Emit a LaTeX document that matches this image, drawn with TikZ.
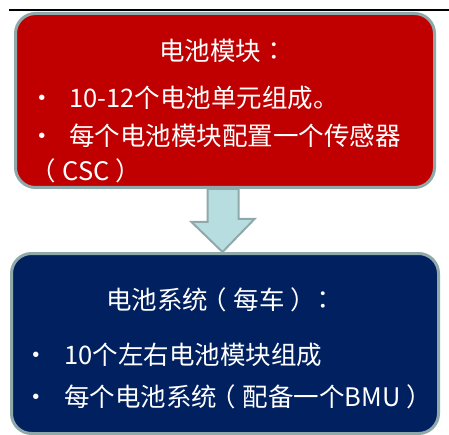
\documentclass[tikz,border=0pt]{standalone}
\usepackage{fontspec}
\setmainfont{Noto Sans CJK SC}
\newfontfamily\tcf{Noto Sans CJK TC}
\newcommand{\LP}{\makebox[1em][l]{\hspace{-0.25em}（}}
\newcommand{\RP}{\makebox[1em][l]{\hspace{0.22em}）}}
\newcommand{\CO}{{\tcf ：}}
\begin{document}
\begin{tikzpicture}[x=1pt,y=1pt,
  boxframe/.style={draw=frameC,line width=3pt,rounded corners=20pt},
  txt/.style={text=white,font=\fontsize{25.5}{28}\selectfont,inner sep=0pt},
]
\definecolor{frameC}{HTML}{8FA9AB}
\definecolor{redC}{HTML}{C00000}
\definecolor{navyC}{HTML}{002060}
\definecolor{arrowC}{HTML}{B7DDE0}
\useasboundingbox (0,0) rectangle (449,434);
\fill[white] (0,0) rectangle (449,434);
\coordinate (lineL) at (9,424);
\coordinate (lineR) at (449,424);
\draw[line width=2pt] (lineL) -- (lineR);
% boxes
\node[boxframe,fill=redC,minimum width=419pt,minimum height=174pt,anchor=north west,inner sep=0pt] (mod) at (14,422) {};
\node[boxframe,fill=navyC,minimum width=427pt,minimum height=180pt,anchor=north west,inner sep=0pt] (sys) at (10,182) {};
% block arrow
\draw[frameC,line width=2pt,fill=arrowC,line join=miter]
  ([xshift=-15pt]mod.south -| 222.5,0) -- ++(0,-33) -- ++(-16,0)
  -- (222.5,0 |- sys.north) -- (254.5,215) -- ++(-16,0) -- ([xshift=16pt]mod.south -| 222.5,0) -- cycle;
% texts
\node[txt,anchor=base west] (t1) at (159,373) {电池模块\CO};
\node[txt,anchor=base west] (b1) at (29,326) {•};
\node[txt,anchor=base west] (l1) at (69,326) {10-12个电池单元组成。};
\node[txt,anchor=base west] (b2) at (29,288) {•};
\node[txt,anchor=base west] (l2) at (69,288) {每个电池模块配置一个传感器};
\node[txt,anchor=base west] (l3) at (37,253) {\LP CSC\RP};
\node[txt,anchor=base west] (t2) at (106,125) {电池系统\LP 每车\RP\CO};
\node[txt,anchor=base west] (b3) at (23,70) {•};
\node[txt,anchor=base west] (l4) at (64,70) {10个左右电池模块组成};
\node[txt,anchor=base west] (b4) at (23,28) {•};
\node[txt,anchor=base west] (l5) at (64,28) {每个电池系统\LP 配备一个BMU\RP};
\end{tikzpicture}
\end{document}
